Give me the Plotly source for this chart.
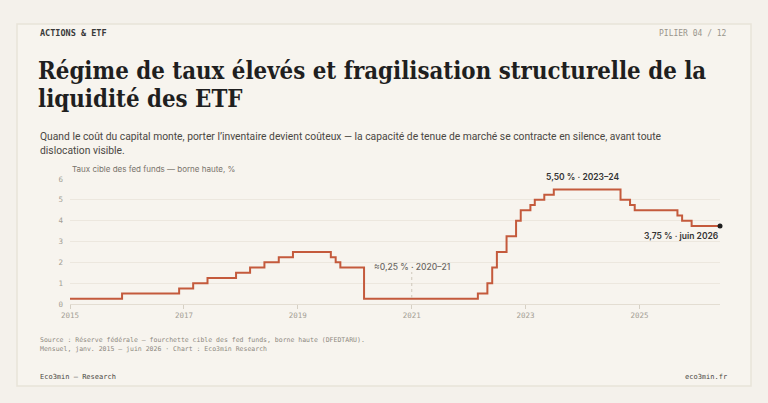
import plotly.graph_objects as go

# ---- data: Fed funds target upper bound, change dates (monthly) ----
change_dates = ["2015-01-01", "2015-12-01", "2016-12-01", "2017-03-01", "2017-06-01",
                "2017-12-01", "2018-03-01", "2018-06-01", "2018-09-01", "2018-12-01",
                "2019-08-01", "2019-09-01", "2019-10-01", "2020-03-01", "2022-03-01",
                "2022-05-01", "2022-06-01", "2022-07-01", "2022-09-01", "2022-11-01",
                "2022-12-01", "2023-02-01", "2023-03-01", "2023-05-01", "2023-07-01",
                "2024-09-01", "2024-11-01", "2024-12-01", "2025-09-01", "2025-10-01",
                "2025-12-01", "2026-06-01"]
upper_bound = [0.25, 0.50, 0.75, 1.00, 1.25,
               1.50, 1.75, 2.00, 2.25, 2.50,
               2.25, 2.00, 1.75, 0.25, 0.50,
               1.00, 1.75, 2.50, 3.25, 4.00,
               4.50, 4.75, 5.00, 5.25, 5.50,
               5.00, 4.75, 4.50, 4.25, 4.00,
               3.75, 3.75]
y_ticks = [0, 1, 2, 3, 4, 5, 6]

W, H = 768, 403
L, R, T, B = 70, 48, 179, 99
PW, PH = W - L - R, H - T - B


def px(x):
    return (x - L) / PW


def py(y):
    return (H - B - y) / PH


RED = "#c45a3c"
BG = "#f4f1eb"
CARD = "#f7f4ee"
MONO = "DejaVu Sans Mono"
SANS = "Inter"
SERIF = "DejaVu Serif Condensed, DejaVu Serif"

fig = go.Figure()
fig.add_trace(go.Scatter(x=change_dates, y=upper_bound, mode="lines",
                         line=dict(color=RED, width=2, shape="hv"),
                         hoverinfo="skip", showlegend=False, cliponaxis=False))
fig.add_trace(go.Scatter(x=[change_dates[-1]], y=[upper_bound[-1]], mode="markers",
                         marker=dict(color="#1e1e1e", size=5),
                         hoverinfo="skip", showlegend=False, cliponaxis=False))

shapes = [
    dict(type="rect", xref="paper", yref="paper", x0=px(17), x1=px(751), y0=py(386), y1=py(24),
         fillcolor=CARD, line=dict(color="#e8e3d9", width=1.5), layer="below"),
    dict(type="line", xref="x", yref="paper", x0="2021-01-01", x1="2021-01-01",
         y0=py(298), y1=py(272), line=dict(color="#cfc8bb", width=1, dash="dot")),
]

ann = []


def text(x, y, s, size, color, family=SANS, anchor="left", yanchor="middle", weight=None):
    f = dict(size=size, color=color, family=family)
    if weight:
        f["weight"] = weight
    ann.append(dict(xref="paper", yref="paper", x=px(x), y=py(y), text=s, showarrow=False,
                    xanchor=anchor, yanchor=yanchor, font=f))


text(38, 33, "ACTIONS &amp; ETF", 8.5, "#3a3a3a", MONO, weight="bold")
text(729, 34, "PILIER 04 / 12", 8, "#9a958c", MONO, anchor="right")
text(36, 71, "Régime de taux élevés et fragilisation structurelle de la", 23.8, "#1f1f1f",
     SERIF, weight="bold")
text(36, 99, "liquidité des ETF", 23.8, "#1f1f1f", SERIF, weight="bold")
text(38, 136, "Quand le coût du capital monte, porter l’inventaire devient coûteux — la capacité de tenue de marché se contracte en silence, avant toute",
     10.3, "#4a4742", "Roboto")
text(38, 150, "dislocation visible.", 10.3, "#4a4742", "Roboto")
text(70, 169, "Taux cible des fed funds — borne haute, %", 8, "#77736b")
text(38, 340, "Source : Réserve fédérale — fourchette cible des fed funds, borne haute (DFEDTARU).",
     6.5, "#8e897f", MONO)
text(38, 349, "Mensuel, janv. 2015 – juin 2026 · Chart : Eco3min Research", 6.5, "#8e897f", MONO)
text(38, 377, "Eco3min — Research", 7, "#4a4742", MONO)
text(729, 377, "eco3min.fr", 7, "#4a4742", MONO, anchor="right")

# data annotations
ann.append(dict(x="2024-01-01", y=5.5, xref="x", yref="y", text="5,50 % · 2023–24", showarrow=False,
                yshift=12, font=dict(size=8.5, color="#333", family=SANS, weight=600)))
ann.append(dict(x="2021-01-01", y=0.25, xref="x", yref="y", text="≈0,25 % · 2020–21", showarrow=False,
                yshift=32, font=dict(size=8.5, color="#6b6863", family=SANS, weight=500)))
ann.append(dict(x="2026-06-01", y=3.75, xref="x", yref="y", text="3,75 % · juin 2026", showarrow=False,
                xanchor="right", yshift=-10, font=dict(size=8.5, color="#333", family=SANS, weight=600)))

fig.update_layout(
    width=W, height=H, margin=dict(l=L, r=R, t=T, b=B),
    paper_bgcolor=BG, plot_bgcolor="rgba(0,0,0,0)",
    shapes=shapes, annotations=ann,
    xaxis=dict(type="date", range=["2015-01-01", "2026-06-01"], tick0="2015-01-01", dtick="M24",
               tickformat="%Y", showgrid=False, zeroline=False, showline=True,
               linecolor="#e3ddd2", linewidth=1, ticks="outside", ticklen=4, tickcolor="#d6d0c4",
               tickfont=dict(family=MONO, size=7.5, color="#a39e94"), fixedrange=True),
    yaxis=dict(range=[0, 6], tickvals=y_ticks, showgrid=True, gridcolor="#ece7de", gridwidth=1,
               zeroline=False, showline=False, ticks="", ticklabelstandoff=6,
               tickfont=dict(family=MONO, size=7.5, color="#a39e94"), fixedrange=True),
)

fig.write_html("out.html", config={"displayModeBar": False},
               post_script="document.body.style.margin='0';document.body.style.background='#f4f1eb';")
